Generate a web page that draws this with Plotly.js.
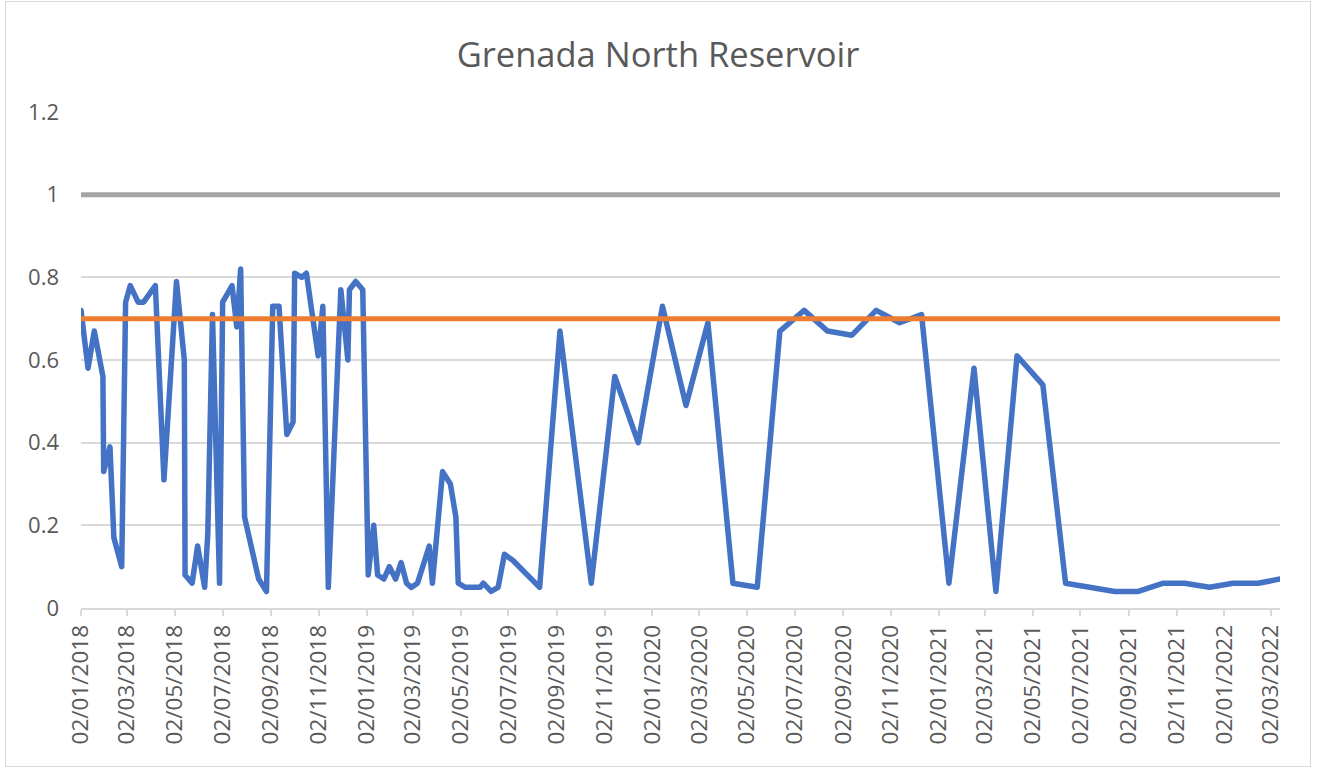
<!DOCTYPE html>
<html>
<head>
<meta charset="utf-8">
<script src="https://cdn.plot.ly/plotly-3.0.1.min.js"></script>
<style>
  html, body { margin: 0; padding: 0; background: #ffffff; }
  #chart { position: absolute; left: 5px; top: 1px; width: 1304px; height: 764px; border: 1px solid #d9d9d9; }
  path.js-line { stroke-linejoin: round !important; stroke-linecap: round; }
</style>
</head>
<body>
<div id="chart"></div>
<script>
const chartTitle = "Grenada North Reservoir";

const sampleDates = [
  "2018-01-02","2018-01-11","2018-01-19","2018-01-30","2018-01-31","2018-02-08","2018-02-13","2018-02-23",
  "2018-02-28","2018-03-06","2018-03-16","2018-03-23","2018-04-07","2018-04-18","2018-05-04","2018-05-14",
  "2018-05-15","2018-05-24","2018-05-31","2018-06-09","2018-06-13","2018-06-19","2018-06-28","2018-07-02",
  "2018-07-14","2018-07-20","2018-07-25","2018-07-30","2018-08-17","2018-08-27","2018-09-04","2018-09-12",
  "2018-09-22","2018-09-30","2018-10-02","2018-10-11","2018-10-17","2018-11-01","2018-11-07","2018-11-14",
  "2018-11-30","2018-12-09","2018-12-11","2018-12-19","2018-12-28","2019-01-04","2019-01-11","2019-01-16",
  "2019-01-24","2019-01-31","2019-02-08","2019-02-15","2019-02-22","2019-02-28","2019-03-08","2019-03-23",
  "2019-03-27","2019-04-09","2019-04-19","2019-04-26","2019-04-29","2019-05-08","2019-05-27","2019-05-31",
  "2019-06-10","2019-06-19","2019-06-27","2019-07-08","2019-08-11","2019-09-06","2019-10-16","2019-11-15",
  "2019-12-15","2020-01-15","2020-02-14","2020-03-13","2020-04-14","2020-05-15","2020-06-13","2020-07-14",
  "2020-08-13","2020-09-13","2020-10-14","2020-11-13","2020-12-11","2021-01-15","2021-02-16","2021-03-16",
  "2021-04-12","2021-05-15","2021-06-13","2021-08-15","2021-09-14","2021-10-16","2021-11-12","2021-12-14",
  "2022-01-13","2022-02-14","2022-03-14"
];

const reservoirValues = [
  0.72,0.58,0.67,0.56,0.33,0.39,0.17,0.10,
  0.74,0.78,0.74,0.74,0.78,0.31,0.79,0.60,
  0.08,0.06,0.15,0.05,0.18,0.71,0.06,0.74,
  0.78,0.68,0.82,0.22,0.07,0.04,0.73,0.73,
  0.42,0.45,0.81,0.80,0.81,0.61,0.73,0.05,
  0.77,0.60,0.77,0.79,0.77,0.08,0.20,0.08,
  0.07,0.10,0.07,0.11,0.06,0.05,0.06,0.15,
  0.06,0.33,0.30,0.22,0.06,0.05,0.05,0.06,
  0.04,0.05,0.13,0.115,0.05,0.67,0.06,0.56,
  0.40,0.73,0.49,0.69,0.06,0.05,0.67,0.72,
  0.67,0.66,0.72,0.69,0.71,0.06,0.58,0.04,
  0.61,0.54,0.06,0.04,0.04,0.06,0.06,0.05,
  0.06,0.06,0.07
];

const limitDates = ["2018-01-02", "2022-03-14"];
const upperLimitValues = [1, 1];
const targetValues = [0.7, 0.7];

const yTickValues = [0, 0.2, 0.4, 0.6, 0.8, 1, 1.2];
const yTickLabels = ["0", "0.2", "0.4", "0.6", "0.8", "1", "1.2"];

const traces = [
  { x: limitDates, y: upperLimitValues, type: "scatter", mode: "lines",
    line: { color: "#A5A5A5", width: 5 }, hoverinfo: "skip", name: "Limit" },
  { x: sampleDates, y: reservoirValues, type: "scatter", mode: "lines",
    line: { color: "#4472C4", width: 5.5 }, name: "Grenada North Reservoir" },
  { x: limitDates, y: targetValues, type: "scatter", mode: "lines",
    line: { color: "#ED7D31", width: 5 }, hoverinfo: "skip", name: "Target" }
];

const layout = {
  width: 1304,
  height: 764,
  margin: { l: 75, r: 30, t: 110, b: 158 },
  paper_bgcolor: "#ffffff",
  plot_bgcolor: "#ffffff",
  showlegend: false,
  font: { family: "Open Sans, sans-serif", color: "#595959" },
  title: {
    text: chartTitle,
    font: { family: "Open Sans, sans-serif", size: 34.5, color: "#595959" },
    x: 0.5, xref: "container", xanchor: "center",
    y: 0.931, yref: "container", yanchor: "middle"
  },
  xaxis: {
    type: "date",
    range: [limitDates[0], limitDates[1]],
    tick0: "2018-01-02",
    dtick: "M2",
    tickformat: "%d/%m/%Y",
    tickangle: -90,
    tickfont: { size: 22.5, color: "#595959" },
    showgrid: false,
    showline: true,
    linecolor: "#d9d9d9",
    linewidth: 2,
    ticks: "outside",
    ticklen: 6,
    tickwidth: 2,
    tickcolor: "#d9d9d9",
    zeroline: false
  },
  yaxis: {
    range: [0, 1.2],
    tickvals: yTickValues,
    ticktext: yTickLabels,
    tickfont: { size: 22, color: "#595959" },
    showgrid: true,
    gridcolor: "#d9d9d9",
    gridwidth: 2,
    zeroline: false,
    showline: false,
    ticks: "",
    ticklabelstandoff: 21
  }
};

Plotly.newPlot("chart", traces, layout, { displayModeBar: false, staticPlot: true });
</script>
</body>
</html>
